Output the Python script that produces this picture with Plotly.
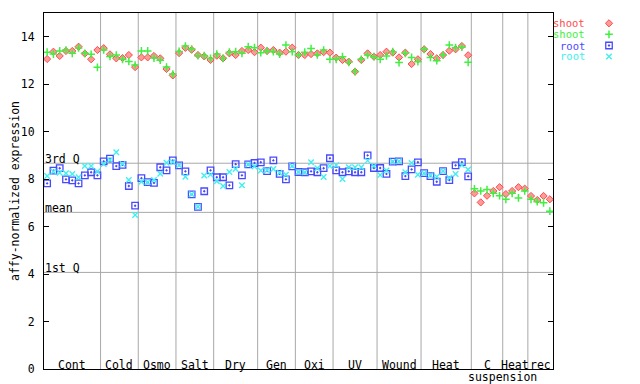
import plotly.graph_objects as go

group_names = ["Cont", "Cold", "Osmo", "Salt", "Dry", "Gen", "Oxi", "UV", "Wound", "Heat", "C", "Heat", "rec"]
group_sizes = [9, 6, 6, 6, 7, 6, 6, 7, 7, 8, 5, 4, 4]

shoot_red = [
    13.06, 13.37, 13.19, 13.40, 13.40, 13.58, 13.29, 13.05, 13.44,
    13.52, 13.26, 13.09, 13.10, 13.23, 12.72,
    13.13, 13.13, 13.19, 13.09, 12.64, 12.37,
    13.31, 13.53, 13.45, 13.23, 13.17, 13.02,
    13.20, 13.09, 13.30, 13.23, 13.40, 13.44, 13.35,
    13.54, 13.40, 13.44, 13.33, 13.37, 13.54,
    13.23, 13.23, 13.27, 13.30, 13.35, 13.33,
    13.12, 13.02, 12.95, 12.53, 13.02, 13.30, 13.16,
    13.23, 13.37, 13.33, 13.13, 13.33, 12.85, 13.05,
    13.47, 13.27, 13.09, 13.23, 13.41, 13.47, 13.61, 13.22,
    7.40, 7.02, 7.30, 7.50, 7.66,
    7.37, 7.50, 7.66, 7.60,
    7.29, 7.12, 7.29, 7.15,
]
shoot_green = [
    13.35, 13.27, 13.40, 13.44, 13.30, 13.53, 13.30, 13.26, 12.71,
    13.44, 13.17, 13.23, 13.05, 12.96, 12.81,
    13.40, 13.40, 13.10, 13.01, 12.72, 12.43,
    13.38, 13.61, 13.48, 13.20, 13.20, 13.09,
    13.27, 13.09, 13.35, 13.37, 13.30, 13.58, 13.54,
    13.33, 13.40, 13.37, 13.27, 13.65, 13.37,
    13.23, 13.35, 13.50, 13.23, 13.44, 13.05,
    13.05, 13.16, 12.92, 12.53, 13.05, 13.23, 13.16,
    13.05, 13.19, 13.37, 12.91, 13.30, 13.13, 12.95,
    13.47, 13.13, 12.99, 13.23, 13.65, 13.54, 13.56, 12.92,
    7.59, 7.50, 7.56, 7.40, 7.30,
    7.15, 7.40, 7.21, 7.50,
    7.15, 7.05, 7.00, 6.65,
]
root_blue = [
    7.82, 8.36, 8.46, 7.99, 7.95, 7.82, 8.16, 8.29, 8.16,
    8.75, 8.86, 8.55, 8.60, 7.71, 6.88,
    8.04, 7.87, 7.84, 8.50, 8.37, 8.79,
    8.58, 8.33, 7.36, 6.83, 7.49, 8.37,
    8.08, 8.08, 7.74, 8.63, 8.16, 8.62, 8.68,
    8.71, 8.34, 8.79, 8.22, 7.99, 8.54,
    8.30, 8.29, 8.33, 8.29, 8.46, 8.88,
    8.37, 8.29, 8.33, 8.29, 8.29, 9.00, 8.47,
    8.47, 8.22, 8.74, 8.75, 8.13, 8.41, 8.71,
    8.25, 8.13, 7.89, 8.34, 7.96, 8.58, 8.72, 8.12,
    None, None, None, None, None,
    None, None, None, None,
    None, None, None, None,
]
root_cyan = [
    8.13, 8.32, 8.27, 8.25, 8.22, 8.08, 8.55, 8.55, 8.32,
    8.64, 8.81, 9.13, 8.64, 7.96, 6.49,
    7.89, 7.87, 7.96, 8.23, 8.69, 8.72,
    8.58, 8.10, 7.36, 6.84, 8.15, 8.19,
    7.91, 7.71, 8.30, 8.43, 7.74, 8.62, 8.53,
    8.36, 8.37, 8.43, 8.27, 8.18, 8.55,
    8.30, 8.29, 8.71, 8.46, 8.09, 8.55,
    8.59, 8.01, 8.50, 8.50, 8.50, 8.78, 8.55,
    8.17, 8.36, 8.74, 8.75, 8.29, 8.68, 8.18,
    8.25, 8.15, 8.10, 8.34, 8.06, 8.22, 8.59, 8.41,
    None, None, None, None, None,
    None, None, None, None,
    None, None, None, None,
]
q_labels = ["3rd Q", "mean", "1st Q"]
q_values = [8.67, 6.60, 4.07]
y_ticks = [0, 2, 4, 6, 8, 10, 12, 14]
series_names = ["shoot", "shoot", "root", "root"]

# page has an 8px body margin: figure is 632x376 and all pixel positions are offset by -8
OFF = 8
W, H = 640 - OFF, 384 - OFF
PL, PR, PT, PB = 44 - OFF, 553 - OFF, 13 - OFF, 369 - OFF
FONT = "DejaVu Sans Mono"
FS = 11.5
colors = ["#ff4a4a", "#40f040", "#4848ff", "#40f0f0"]

n = len(shoot_red)
xs = list(range(1, n + 1))

markers = [
    dict(symbol="diamond", size=5.5, color="#ff9a9a", line=dict(width=1, color=colors[0])),
    dict(symbol="cross-thin-open", size=5.5, color=colors[1], line=dict(width=1.5, color=colors[1])),
    dict(symbol="square-open-dot", size=6.5, color=colors[2], line=dict(width=1.3, color=colors[2])),
    dict(symbol="x-thin-open", size=5.5, color=colors[3], line=dict(width=1.4, color=colors[3])),
]

fig = go.Figure()
for vals, name, mk in zip([shoot_red, shoot_green, root_blue, root_cyan], series_names, markers):
    fig.add_trace(go.Scatter(x=xs, y=vals, mode="markers", name=name, marker=mk,
                             showlegend=False, xaxis="x", yaxis="y", cliponaxis=False))

# legend symbols on an overlay pixel axis
leg_y = [23.3 - OFF, 34.3 - OFF, 45.5 - OFF, 56.5 - OFF]
for i, (name, mk) in enumerate(zip(series_names, markers)):
    fig.add_trace(go.Scatter(x=[609 - OFF], y=[leg_y[i]], mode="markers", marker=mk,
                             showlegend=False, xaxis="x2", yaxis="y2", hoverinfo="skip"))

shapes = []
annotations = []
start = 0.5
for gname, gsize in zip(group_names, group_sizes):
    end = start + gsize
    if end < n + 0.4:
        shapes.append(dict(type="line", xref="x", yref="y", x0=end, x1=end, y0=0, y1=15,
                           line=dict(color="#a8a8a8", width=1), layer="below"))
    annotations.append(dict(x=(start + end) / 2, y=0, xref="x", yref="y", text=gname,
                            showarrow=False, yanchor="bottom", yshift=-4, xanchor="center",
                            borderpad=0,
                            font=dict(family=FONT, size=FS, color="black")))
    start = end
c_end = 0.5 + sum(group_sizes[:11])
annotations.append(dict(x=c_end, y=0, xref="x", yref="y", text="suspension", showarrow=False,
                        yanchor="top", yshift=0, xanchor="center", borderpad=0,
                        font=dict(family=FONT, size=FS, color="black")))

for lab, val in zip(q_labels, q_values):
    shapes.append(dict(type="line", xref="x", yref="y", x0=0.5, x1=n + 0.5, y0=val, y1=val,
                       line=dict(color="#a8a8a8", width=1), layer="below"))
    annotations.append(dict(x=0.5, y=val, xref="x", yref="y", text=lab, showarrow=False,
                            xanchor="left", yanchor="bottom", yshift=-4.5, xshift=-1,
                            font=dict(family=FONT, size=FS, color="black")))

annotations.append(dict(x=(15 - OFF) / W, y=1 - (191 - OFF) / H, xref="paper", yref="paper",
                        text="affy-normalized expression", textangle=-90, showarrow=False,
                        xanchor="center", yanchor="middle", borderpad=0,
                        font=dict(family=FONT, size=FS, color="black")))
for i, name in enumerate(series_names):
    annotations.append(dict(x=(586 - OFF) / W, y=1 - leg_y[i] / H, xref="paper", yref="paper",
                            text=name, showarrow=False, xanchor="right", yanchor="middle",
                            borderpad=0,
                            font=dict(family=FONT, size=10.5, color=colors[i])))

fig.update_layout(
    width=W, height=H,
    margin=dict(l=0, r=0, t=0, b=0),
    paper_bgcolor="white", plot_bgcolor="rgba(0,0,0,0)",
    shapes=shapes, annotations=annotations,
    xaxis=dict(domain=[PL / W, PR / W], range=[0.5, n + 0.5], showgrid=False, zeroline=False,
               showline=True, linecolor="black", linewidth=1, mirror=True,
               showticklabels=False, ticks="", automargin=False, fixedrange=True),
    yaxis=dict(domain=[1 - PB / H, 1 - PT / H], range=[0, 15], showgrid=False, zeroline=False,
               showline=True, linecolor="black", linewidth=1, mirror="ticks",
               tickvals=y_ticks, ticks="inside", ticklen=5, tickcolor="black",
               tickfont=dict(family=FONT, size=FS, color="black"), ticklabelstandoff=6,
               automargin=False, fixedrange=True),
    xaxis2=dict(domain=[0, 1], range=[0, W], visible=False, anchor="y2", fixedrange=True),
    yaxis2=dict(domain=[0, 1], range=[H, 0], visible=False, anchor="x2", fixedrange=True),
    showlegend=False,
)

fig.write_html("out.html")
